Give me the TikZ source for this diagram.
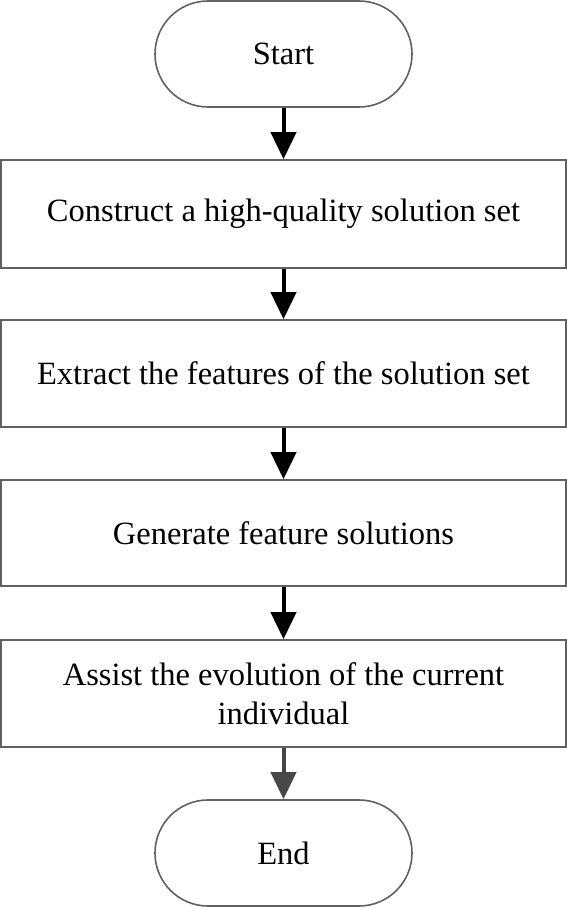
\documentclass[tikz,border=0pt]{standalone}
\usepackage{fontspec}
\setmainfont{Liberation Serif}
\usetikzlibrary{arrows.meta}
\begin{document}
\begin{tikzpicture}[x=1pt,y=1pt,
  every node/.style={font=\fontsize{32.5}{39}\selectfont, align=center, inner sep=0pt},
  box/.style={draw=black!62, line width=1.6pt, minimum width=565pt},
  term/.style={draw=black!62, line width=1.6pt, minimum width=257pt, minimum height=106pt, rounded corners=53pt},
  flow/.style={line width=4pt, -{Triangle[length=27pt,width=25pt]}},
]
\useasboundingbox (0,0) rectangle (567,908);
\node[term] (start) at (283.5,854) {Start};
\node[box, minimum height=108pt] (b1) at (283.5,694) {Construct a high-quality solution set};
\node[box, minimum height=107pt] (b2) at (283.5,534.5) {Extract the features of the solution set};
\node[box, minimum height=106pt] (b3) at (283.5,375) {Generate feature solutions};
\node[box, minimum height=107pt] (b4) at (283.5,214.5) {Assist the evolution of the current\\individual};
\node[term] (end) at (283.5,55) {End};
\draw[flow] (start) -- (b1);
\draw[flow] (b1) -- (b2);
\draw[flow] (b2) -- (b3);
\draw[flow] (b3) -- (b4);
\draw[flow, draw=black!72, fill=black!72] (b4) -- (end);
\end{tikzpicture}
\end{document}
